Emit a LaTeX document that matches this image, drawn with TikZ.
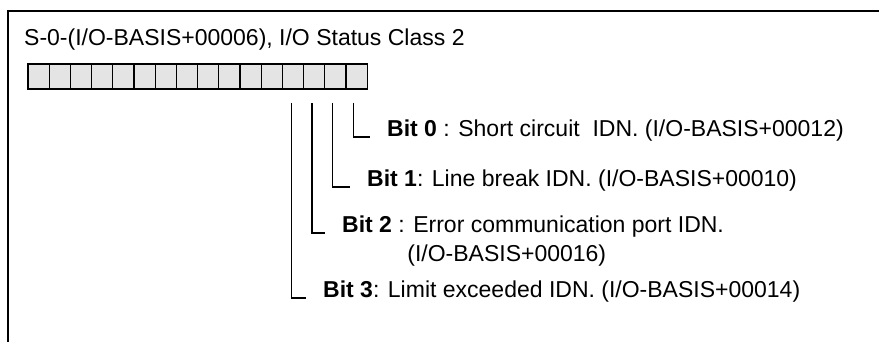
\documentclass[tikz,border=0pt]{standalone}
\usepackage{fontspec}
\setmainfont{Liberation Sans}
\definecolor{cellgray}{RGB}{228,228,228}
\begin{document}
\begin{tikzpicture}[x=1pt,y=-1pt,
  font=\fontsize{23}{28}\selectfont,
  frame/.style={line width=2pt},
  cell/.style={draw, fill=cellgray, line width=1.3pt, minimum width=21.2pt,
    minimum height=25pt, inner sep=0pt, anchor=north west},
  lbl/.style={anchor=base west, inner sep=0pt},
  lead/.style={line width=1.3pt}]
\useasboundingbox (0,0) rectangle (879,342);
% open frame: top and left edges
\draw[frame] (7.5,342) -- (7.5,11.5) -- (879,11.5);
% register name
\node[lbl] (title) at (24,46) {S-0-(I/O-BASIS+00006), I/O Status Class 2};
% 16 bit cells, bit 15 on the left
\foreach \i in {0,...,15}{
  \pgfmathtruncatemacro{\b}{15-\i}
  \node[cell] (bit\b) at (27.3+21.2*\i,63.5) {};
}
% bit descriptions
\node[lbl] (t0) at (387,137) {\textbf{Bit 0} : Short circuit\ \ IDN. (I/O-BASIS+00012)};
\node[lbl] (t1) at (367,187) {\textbf{Bit 1}: Line break IDN. (I/O-BASIS+00010)};
\node[lbl] (t2) at (342,233) {\textbf{Bit 2} : \begin{tabular}[t]{@{}l@{}}Error communication port IDN.\\[1pt]\hspace{-6pt}(I/O-BASIS+00016)\end{tabular}};
\node[lbl] (t3) at (323,298) {\textbf{Bit 3}: Limit exceeded IDN. (I/O-BASIS+00014)};
% leader lines from below the cells to each description
\coordinate (s0) at (353.5,103);
\coordinate (s1) at (332.5,103);
\coordinate (s2) at (312,103);
\coordinate (s3) at (291.5,103);
\foreach \k in {0,...,3}{
  \coordinate (e\k) at ([xshift=-17pt]t\k.base west);
  \draw[lead] (s\k) |- (e\k);
}
\end{tikzpicture}
\end{document}
